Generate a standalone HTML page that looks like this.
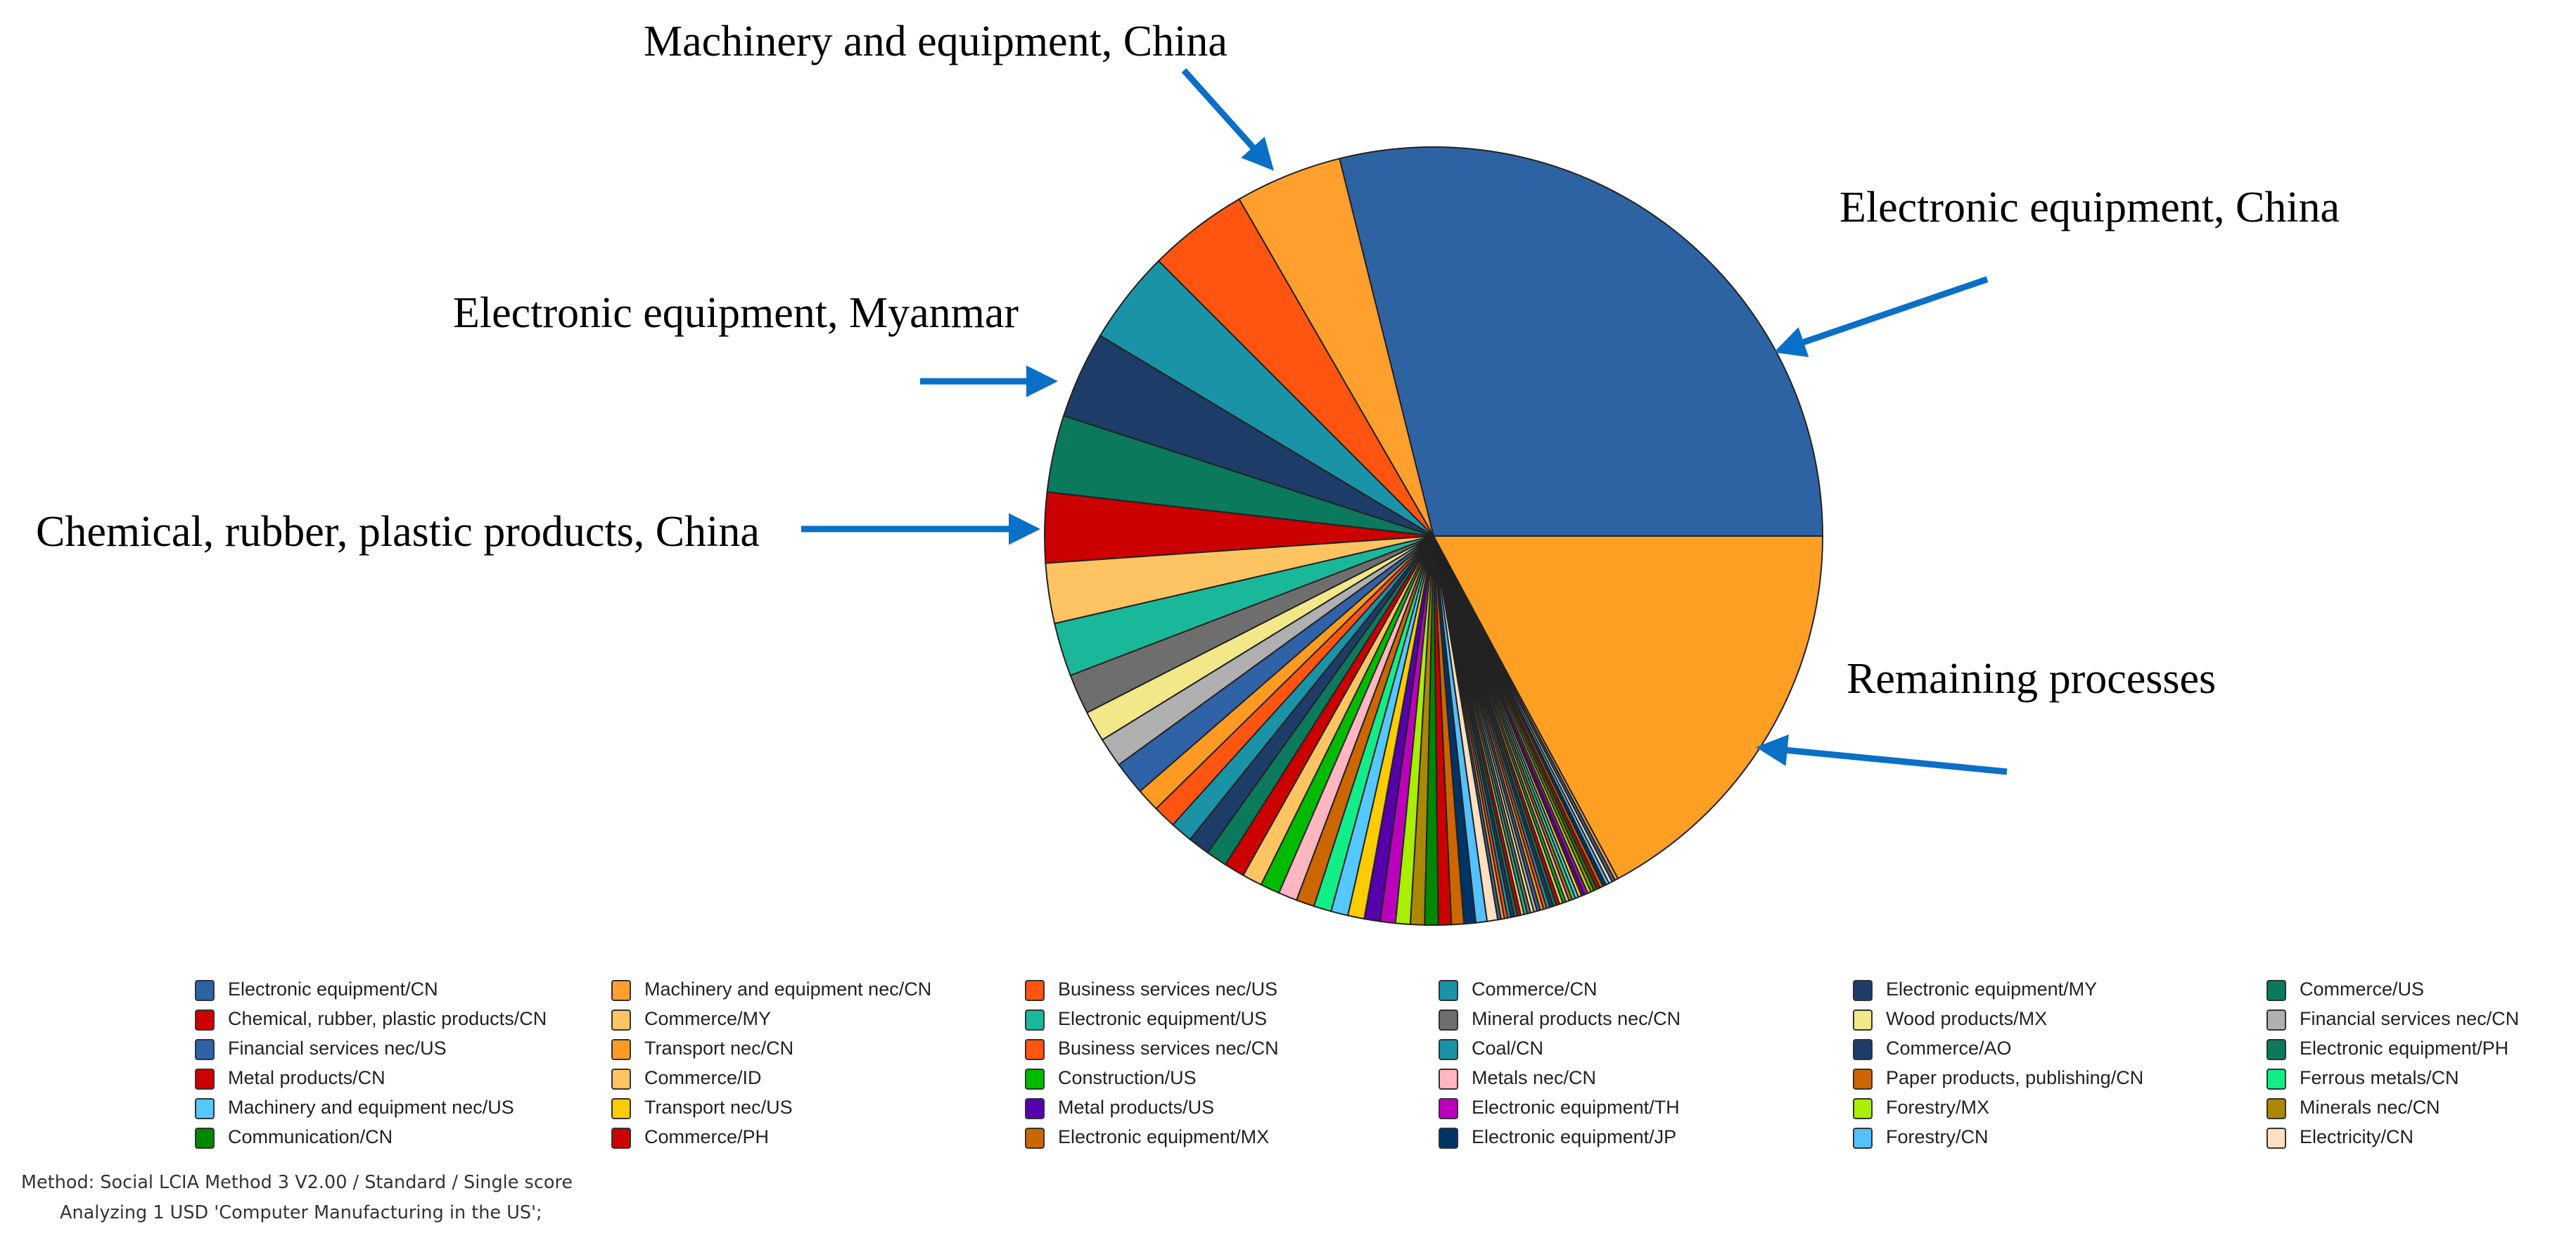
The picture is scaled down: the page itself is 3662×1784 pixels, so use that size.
<!DOCTYPE html>
<html><head><meta charset="utf-8"><style>
body{margin:0;width:3662px;height:1784px;background:#fff;position:relative;overflow:hidden}
.ann{position:absolute;font-family:"Liberation Serif",serif;font-size:62px;color:#000;white-space:nowrap;line-height:1}
.lg{position:absolute;font-family:"Liberation Sans Narrow","Liberation Sans",sans-serif;font-size:27px;color:#222;white-space:nowrap;line-height:30px}
.sq{position:absolute;width:24px;height:26px;border:2px solid #333;border-radius:4px}
.m{position:absolute;font-family:"DejaVu Sans","Liberation Sans",sans-serif;font-size:25.5px;color:#333;white-space:nowrap}
</style></head><body>
<svg id="pie" width="3662" height="1784" style="position:absolute;left:0;top:0">
<defs><marker id="ah" markerWidth="5" markerHeight="5" refX="4" refY="2.5" orient="auto"><path d="M0,0 L5,2.5 L0,5 Z" fill="#0a6fc6"/></marker></defs>
<g id="slices" stroke="#222" stroke-width="2"></g>
<g stroke="#0a6fc6" stroke-width="9" marker-end="url(#ah)">
<line x1="1683" y1="100" x2="1805" y2="236"/>
<line x1="2825" y1="397" x2="2530" y2="498"/>
<line x1="1308" y1="542" x2="1495" y2="542"/>
<line x1="1139" y1="752" x2="1470" y2="752"/>
<line x1="2853" y1="1097" x2="2505" y2="1063"/>
</g>
</svg>
<div class="ann" style="left:915px;top:28px">Machinery and equipment, China</div>
<div class="ann" style="left:2615px;top:264px">Electronic equipment, China</div>
<div class="ann" style="left:644px;top:414px">Electronic equipment, Myanmar</div>
<div class="ann" style="left:51px;top:725px">Chemical, rubber, plastic products, China</div>
<div class="ann" style="left:2625px;top:934px">Remaining processes</div>
<div id="legend"></div>
<div class="m" style="left:30px;top:1666px">Method: Social LCIA Method 3 V2.00 / Standard / Single score</div>
<div class="m" style="left:85px;top:1709px">Analyzing 1 USD 'Computer Manufacturing in the US';</div>
<script>
var items=[["Electronic equipment/CN","#2e63a3"],["Machinery and equipment nec/CN","#ffa02e"],["Business services nec/US","#ff5511"],["Commerce/CN","#1a93a6"],["Electronic equipment/MY","#1d3c68"],["Commerce/US","#0b7a5c"],
["Chemical, rubber, plastic products/CN","#cc0000"],["Commerce/MY","#ffc462"],["Electronic equipment/US","#1ab89a"],["Mineral products nec/CN","#6e6e6e"],["Wood products/MX","#f2e88a"],["Financial services nec/CN","#b0b0b0"],
["Financial services nec/US","#2f62a6"],["Transport nec/CN","#ff9a22"],["Business services nec/CN","#ff5511"],["Coal/CN","#1a93a6"],["Commerce/AO","#1d3c68"],["Electronic equipment/PH","#0b7a5c"],
["Metal products/CN","#cc0000"],["Commerce/ID","#ffc462"],["Construction/US","#00bb00"],["Metals nec/CN","#ffb6c1"],["Paper products, publishing/CN","#cc6600"],["Ferrous metals/CN","#11ee88"],
["Machinery and equipment nec/US","#55c8ff"],["Transport nec/US","#ffcc00"],["Metal products/US","#5500aa"],["Electronic equipment/TH","#bb00bb"],["Forestry/MX","#aaee00"],["Minerals nec/CN","#aa8800"],
["Communication/CN","#008800"],["Commerce/PH","#cc0000"],["Electronic equipment/MX","#cc6600"],["Electronic equipment/JP","#003366"],["Forestry/CN","#55c0ff"],["Electricity/CN","#ffe0c0"]];
var xs=[277,869,1457,2045,2634,3222],h="";
items.forEach(function(it,i){var c=i%6,r=Math.floor(i/6),y=1407+42*r;
h+='<div class="sq" style="left:'+xs[c]+'px;top:'+(y-14)+'px;background:'+it[1]+'"></div><div class="lg" style="left:'+(xs[c]+47)+'px;top:'+(y-16)+'px">'+it[0]+'</div>';});
document.getElementById('legend').innerHTML=h;
var b=[0,104,120,135,149,162,173.5,184,193,201,207,211.6,216,221];
var a=221;for(var k=13;k<36;k++){a+=3.5-2*(k-13)/23;b.push(a);}
var n=Math.round((298.3-a)/0.5);for(var k=0;k<n;k++){a+=(298.3-b[b.length-1])/(n-k);b.push(a);}
b.push(360);
var cx=2038,cy=762,R=553,g="";
for(var i=0;i<b.length-1;i++){var col=(i==b.length-2)?"#ffa024":items[i%36][1];
var a1=b[i]*Math.PI/180,a2=b[i+1]*Math.PI/180;
var x1=cx+R*Math.cos(a1),y1=cy-R*Math.sin(a1),x2=cx+R*Math.cos(a2),y2=cy-R*Math.sin(a2);
var lg=(b[i+1]-b[i])>180?1:0;
g+='<path fill="'+col+'" d="M'+cx+','+cy+' L'+x1+','+y1+' A'+R+','+R+' 0 '+lg+' 0 '+x2+','+y2+' Z"/>';}
document.getElementById('slices').innerHTML=g;
</script>
</body></html>
